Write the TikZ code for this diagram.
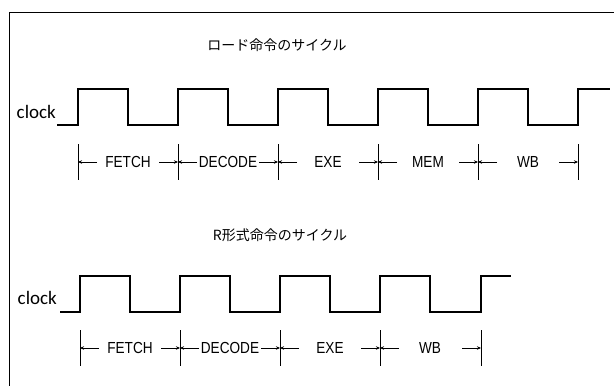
\documentclass[tikz,border=0pt]{standalone}
\usepackage{fontspec}
\setmainfont{Liberation Sans}
\newfontfamily\jpfont{Noto Sans CJK JP}
\newfontfamily\clockfont{Carlito}
\newfontfamily\stagefont[FakeStretch=0.85]{Liberation Sans}
\usetikzlibrary{arrows.meta}
\tikzset{
  title/.style={
    font=\jpfont\fontsize{14}{14}\selectfont,
    inner sep=0pt
  },
  clocklabel/.style={
    anchor=base east,
    font=\clockfont\fontsize{19}{19}\selectfont,
    inner sep=0pt
  },
  stage/.style={
    font=\stagefont\fontsize{16}{16}\selectfont,
    inner sep=0pt
  },
  wave/.style={
    line width=1.1pt,
    line join=miter
  },
  frame/.style={
    line width=1pt
  },
  tickline/.style={
    line width=0.8pt
  },
  dimarrow/.style={
    -{Stealth[length=4pt,width=3.5pt]},
    line width=0.8pt
  }
}

\begin{document}
\begin{tikzpicture}[x=1pt,y=-1pt]
\useasboundingbox (0,0) rectangle (614,386);

% frame
\draw[frame] (9,386) -- (9,12) -- (614,12);

% load instruction
\node[title] (ldtitle) at (277,45) {ロード命令のサイクル};
\node[clocklabel] (ldclk) at (56,118) {clock};
\draw[wave] (57,125) -- (78,125) -- (78,89) -- (128,89) -- (128,125)
  -- (178,125) -- (178,89) -- (228,89) -- (228,125)
  -- (278,125) -- (278,89) -- (328,89) -- (328,125)
  -- (378,125) -- (378,89) -- (428,89) -- (428,125)
  -- (478,125) -- (478,89) -- (528,89) -- (528,125)
  -- (578,125) -- (578,89) -- (610,89);

\coordinate (la0) at (78,162);
\coordinate (la1) at (178,162);
\coordinate (la2) at (278,162);
\coordinate (la3) at (378,162);
\coordinate (la4) at (478,162);
\coordinate (la5) at (578,162);

\node[stage] (ldfetch) at (128,162) {FETCH};
\node[stage] (lddecode) at (228,162) {DECODE};
\node[stage] (ldexe) at (328,162) {EXE};
\node[stage] (ldmem) at (428,162) {MEM};
\node[stage] (ldwb) at (528,162) {WB};

\draw[tickline] ([yshift=18pt]la0) -- ([yshift=-18pt]la0);
\draw[tickline] ([yshift=18pt]la1) -- ([yshift=-18pt]la1);
\draw[tickline] ([yshift=18pt]la2) -- ([yshift=-18pt]la2);
\draw[tickline] ([yshift=18pt]la3) -- ([yshift=-18pt]la3);
\draw[tickline] ([yshift=18pt]la4) -- ([yshift=-18pt]la4);
\draw[tickline] ([yshift=18pt]la5) -- ([yshift=-18pt]la5);

\draw[dimarrow] ([xshift=19pt]la0) -- (la0);
\draw[dimarrow] ([xshift=-19pt]la1) -- (la1);
\draw[dimarrow] ([xshift=19pt]la1) -- (la1);
\draw[dimarrow] ([xshift=-19pt]la2) -- (la2);
\draw[dimarrow] ([xshift=19pt]la2) -- (la2);
\draw[dimarrow] ([xshift=-19pt]la3) -- (la3);
\draw[dimarrow] ([xshift=19pt]la3) -- (la3);
\draw[dimarrow] ([xshift=-19pt]la4) -- (la4);
\draw[dimarrow] ([xshift=19pt]la4) -- (la4);
\draw[dimarrow] ([xshift=-19pt]la5) -- (la5);

% R-type instruction
\node[title] (rtitle) at (280,235) {R形式命令のサイクル};
\node[clocklabel] (rclk) at (57,304) {clock};
\draw[wave] (60,312) -- (80,312) -- (80,276) -- (130,276) -- (130,312)
  -- (180,312) -- (180,276) -- (230,276) -- (230,312)
  -- (280,312) -- (280,276) -- (330,276) -- (330,312)
  -- (380,312) -- (380,276) -- (430,276) -- (430,312)
  -- (481,312) -- (481,276) -- (511,276);

\coordinate (ra0) at (80,348);
\coordinate (ra1) at (180,348);
\coordinate (ra2) at (280,348);
\coordinate (ra3) at (380,348);
\coordinate (ra4) at (481,348);

\node[stage] (rfetch) at (130,348) {FETCH};
\node[stage] (rdecode) at (230,348) {DECODE};
\node[stage] (rexe) at (330,348) {EXE};
\node[stage] (rwb) at (430,348) {WB};

\draw[tickline] ([yshift=18pt]ra0) -- ([yshift=-18pt]ra0);
\draw[tickline] ([yshift=18pt]ra1) -- ([yshift=-18pt]ra1);
\draw[tickline] ([yshift=18pt]ra2) -- ([yshift=-18pt]ra2);
\draw[tickline] ([yshift=18pt]ra3) -- ([yshift=-18pt]ra3);
\draw[tickline] ([yshift=18pt]ra4) -- ([yshift=-18pt]ra4);

\draw[dimarrow] ([xshift=19pt]ra0) -- (ra0);
\draw[dimarrow] ([xshift=-19pt]ra1) -- (ra1);
\draw[dimarrow] ([xshift=19pt]ra1) -- (ra1);
\draw[dimarrow] ([xshift=-19pt]ra2) -- (ra2);
\draw[dimarrow] ([xshift=19pt]ra2) -- (ra2);
\draw[dimarrow] ([xshift=-19pt]ra3) -- (ra3);
\draw[dimarrow] ([xshift=19pt]ra3) -- (ra3);
\draw[dimarrow] ([xshift=-19pt]ra4) -- (ra4);

\end{tikzpicture}
\end{document}
